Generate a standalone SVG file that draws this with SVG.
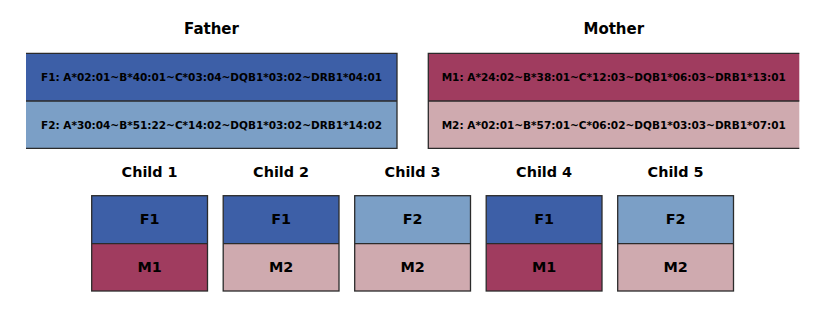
<svg xmlns="http://www.w3.org/2000/svg" width="830" height="314" viewBox="0 0 830 314">
<style>
text{font-family:"DejaVu Sans","Liberation Sans",sans-serif;font-weight:bold;fill:#000;text-anchor:middle}
.title{font-size:15px}
.ctitle{font-size:14.4px}
.hap{font-size:10.5px}
.lab{font-size:14.4px}
.f1{fill:#3d5fa7}
.f2{fill:#7b9fc6}
.m1{fill:#a03c5f}
.m2{fill:#cfaaaf}
.edge{stroke:#2b2b2b;stroke-width:1.3;fill:none}
</style>
<g id="father">
<text class="title" x="211.5" y="33.5">Father</text>
<rect class="f1" x="26" y="53.3" width="371" height="47.7"/>
<rect class="f2" x="26" y="101" width="371" height="47.3"/>
<path class="edge" d="M26 53.3H397V148.3H26M26 101H397"/>
<text class="hap" x="211.5" y="81">F1: A*02:01~B*40:01~C*03:04~DQB1*03:02~DRB1*04:01</text>
<text class="hap" x="211.5" y="128.5">F2: A*30:04~B*51:22~C*14:02~DQB1*03:02~DRB1*14:02</text>
</g>
<g id="mother">
<text class="title" x="613.8" y="33.5">Mother</text>
<rect class="m1" x="428.3" y="53.3" width="371" height="47.7"/>
<rect class="m2" x="428.3" y="101" width="371" height="47.3"/>
<path class="edge" d="M799.3 53.3H428.3V148.3H799.3M428.3 101H799.3"/>
<text class="hap" x="613.8" y="81">M1: A*24:02~B*38:01~C*12:03~DQB1*06:03~DRB1*13:01</text>
<text class="hap" x="613.8" y="128.5">M2: A*02:01~B*57:01~C*06:02~DQB1*03:03~DRB1*07:01</text>
</g>
<g id="child1">
<text class="ctitle" x="149.6" y="176.7">Child 1</text>
<rect class="f1" x="91.7" y="195.7" width="115.8" height="48"/>
<rect class="m1" x="91.7" y="243.7" width="115.8" height="47.3"/>
<rect class="edge" x="91.7" y="195.7" width="115.8" height="95.3"/>
<line class="edge" x1="91.7" y1="243.7" x2="207.5" y2="243.7"/>
<text class="lab" x="149.6" y="224.3">F1</text>
<text class="lab" x="149.6" y="271.6">M1</text>
</g>
<g id="child2">
<text class="ctitle" x="281.1" y="176.7">Child 2</text>
<rect class="f1" x="223.2" y="195.7" width="115.8" height="48"/>
<rect class="m2" x="223.2" y="243.7" width="115.8" height="47.3"/>
<rect class="edge" x="223.2" y="195.7" width="115.8" height="95.3"/>
<line class="edge" x1="223.2" y1="243.7" x2="339" y2="243.7"/>
<text class="lab" x="281.1" y="224.3">F1</text>
<text class="lab" x="281.1" y="271.6">M2</text>
</g>
<g id="child3">
<text class="ctitle" x="412.6" y="176.7">Child 3</text>
<rect class="f2" x="354.7" y="195.7" width="115.8" height="48"/>
<rect class="m2" x="354.7" y="243.7" width="115.8" height="47.3"/>
<rect class="edge" x="354.7" y="195.7" width="115.8" height="95.3"/>
<line class="edge" x1="354.7" y1="243.7" x2="470.5" y2="243.7"/>
<text class="lab" x="412.6" y="224.3">F2</text>
<text class="lab" x="412.6" y="271.6">M2</text>
</g>
<g id="child4">
<text class="ctitle" x="544.1" y="176.7">Child 4</text>
<rect class="f1" x="486.2" y="195.7" width="115.8" height="48"/>
<rect class="m1" x="486.2" y="243.7" width="115.8" height="47.3"/>
<rect class="edge" x="486.2" y="195.7" width="115.8" height="95.3"/>
<line class="edge" x1="486.2" y1="243.7" x2="602" y2="243.7"/>
<text class="lab" x="544.1" y="224.3">F1</text>
<text class="lab" x="544.1" y="271.6">M1</text>
</g>
<g id="child5">
<text class="ctitle" x="675.6" y="176.7">Child 5</text>
<rect class="f2" x="617.7" y="195.7" width="115.8" height="48"/>
<rect class="m2" x="617.7" y="243.7" width="115.8" height="47.3"/>
<rect class="edge" x="617.7" y="195.7" width="115.8" height="95.3"/>
<line class="edge" x1="617.7" y1="243.7" x2="733.5" y2="243.7"/>
<text class="lab" x="675.6" y="224.3">F2</text>
<text class="lab" x="675.6" y="271.6">M2</text>
</g>
<g id="connectors"></g>
</svg>
